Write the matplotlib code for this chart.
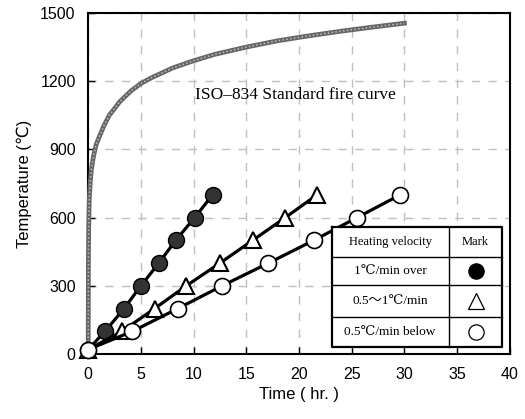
import matplotlib
matplotlib.use("Agg")
from matplotlib import pyplot as plt
import numpy as np

# ISO-834 standard fire curve
iso_time = [0, 0.02, 0.05, 0.1, 0.2, 0.3, 0.5, 0.75, 1, 1.5, 2, 3, 4, 5, 6,
            8, 10, 12, 15, 18, 21, 24, 27, 30]
iso_temp = [20, 420, 560, 680, 760, 810, 870, 920, 950, 1005, 1050, 1110,
            1155, 1190, 1215, 1258, 1290, 1318, 1350, 1378, 1400, 1420, 1438, 1455]

# heating tests
fast_time = [0, 1.6, 3.4, 5.0, 6.7, 8.3, 10.1, 11.8]
fast_temp = [20, 100, 200, 300, 400, 500, 600, 700]
mid_time = [0, 3.2, 6.3, 9.3, 12.5, 15.6, 18.7, 21.7]
mid_temp = [20, 100, 200, 300, 400, 500, 600, 700]
slow_time = [0, 4.2, 8.5, 12.7, 17.1, 21.4, 25.5, 29.6]
slow_temp = [20, 100, 200, 300, 400, 500, 600, 700]

table_header = ["Heating velocity", "Mark"]
table_rows = ["1\u2103/min over", "0.5\uff5e1\u2103/min", "0.5\u2103/min below"]

xticks = [0, 5, 10, 15, 20, 25, 30, 35, 40]
yticks = [0, 300, 600, 900, 1200, 1500]

sans = ["Liberation Sans", "DejaVu Sans"]
serif = ["Liberation Serif", "DejaVu Serif", "Noto Sans CJK JP"]

fig = plt.figure(figsize=(5.25, 4.19), dpi=100)
ax = fig.add_axes([0.168, 0.155, 0.803, 0.814])

ax.grid(True, color="#c0c0c0", linestyle=(0, (6, 6)), linewidth=1.0)
ax.set_axisbelow(True)

# ISO curve: grey ribbon with lighter speckle
ax.plot(iso_time, iso_temp, color="#666666", lw=3.4, zorder=3, clip_on=False)
ax.plot(iso_time, iso_temp, color="#bdbdbd", lw=1.1, ls=(0, (1, 1.5)), zorder=3,
        clip_on=False)

ax.plot(fast_time, fast_temp, color="black", lw=2.3, marker="o", ms=11.5,
        mfc="#333333", mec="black", mew=1.0, zorder=4, clip_on=False)
ax.plot(mid_time, mid_temp, color="black", lw=2.3, marker="^", ms=12,
        mfc="white", mec="black", mew=1.5, zorder=5, clip_on=False)
ax.plot(slow_time, slow_temp, color="black", lw=2.3, marker="o", ms=11.5,
        mfc="white", mec="black", mew=1.2, zorder=6, clip_on=False)

ax.text(10.1, 1140, "ISO\u2013834 Standard fire curve", family=serif,
        fontsize=12.5, va="center", ha="left")

ax.set_xlim(0, 40)
ax.set_ylim(0, 1500)
ax.set_xticks(xticks)
ax.set_yticks(yticks)
ax.tick_params(direction="in", length=5, width=1, labelsize=11.5, pad=9)
for lab in ax.get_xticklabels() + ax.get_yticklabels():
    lab.set_family(sans)
for s in ax.spines.values():
    s.set_linewidth(1.5)
ax.set_xlabel("Time ( hr. )", family=sans, fontsize=12, labelpad=4)
ax.set_ylabel("Temperature (\u2103)", family=sans, fontsize=12, labelpad=6)

# legend table
x0, x1, xm = 23.1, 39.3, 34.2
ys = [559, 427, 304, 163, 31]
ax.fill_between([x0, x1], ys[-1], ys[0], color="white", zorder=7)
ax.plot([x0, x1, x1, x0, x0], [ys[0], ys[0], ys[-1], ys[-1], ys[0]],
        color="black", lw=1.6, zorder=8)
for y in ys[1:-1]:
    ax.plot([x0, x1], [y, y], color="black", lw=1.0, zorder=8)
ax.plot([xm, xm], [ys[0], ys[-1]], color="black", lw=1.0, zorder=8)

cx0 = (x0 + xm) / 2
cx1 = (xm + x1) / 2
ax.text(cx0, (ys[0] + ys[1]) / 2, table_header[0], family=serif, fontsize=9,
        ha="center", va="center", zorder=9)
ax.text(cx1, (ys[0] + ys[1]) / 2, table_header[1], family=serif, fontsize=9,
        ha="center", va="center", zorder=9)
marks = [("o", "black"), ("^", "white"), ("o", "white")]
for i, row in enumerate(table_rows):
    yc = (ys[i + 1] + ys[i + 2]) / 2
    ax.text(cx0, yc, row, family=serif, fontsize=9.5, ha="center",
            va="center", zorder=9)
    m, fc = marks[i]
    ax.plot([cx1], [yc], marker=m, ms=11 if m == "o" else 12, mfc=fc,
            mec="black", mew=0.9, ls="none", zorder=9)

fig.savefig("out.png", dpi=100)
